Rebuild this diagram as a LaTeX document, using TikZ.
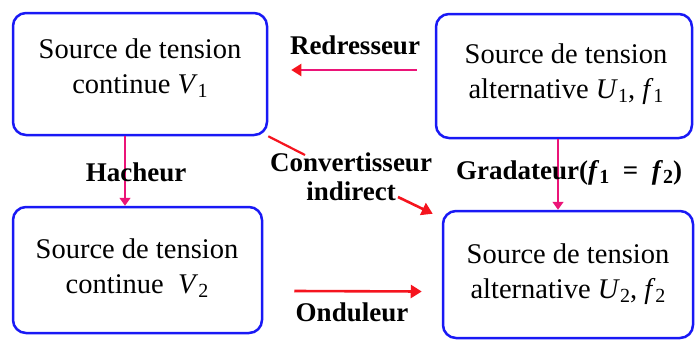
\documentclass[tikz,border=0pt]{standalone}
\usepackage{fontspec}
\setmainfont{Liberation Serif}
\usetikzlibrary{arrows.meta}
\definecolor{boxblue}{RGB}{25,25,245}
\definecolor{pinkline}{RGB}{235,20,120}
\definecolor{redarr}{RGB}{245,20,30}
\newcommand\mysub[1]{\raisebox{-0.35ex}{\fontsize{20}{20}\selectfont #1}}
\begin{document}
\begin{tikzpicture}[x=1pt,y=-1pt,
  srcbox/.style={draw=boxblue, line width=2.5pt, rounded corners=13pt, inner sep=0pt},
  srctext/.style={align=center, font=\fontsize{28.5}{35}\selectfont, inner sep=0pt},
  lab/.style={font=\bfseries\fontsize{27}{29}\selectfont, inner sep=0pt, align=center},
  pinkarr/.style={draw=pinkline, line width=1.6pt, -{Triangle[length=8pt,width=11pt,color=pinkline]}},
  pinkred/.style={draw=pinkline, line width=2pt, -{Triangle[length=10pt,width=12pt,color=redarr]}},
  redarrow/.style={draw=redarr, line width=2.6pt, -{Triangle[length=11pt,width=13pt]}},
  redline/.style={draw=redarr, line width=2.2pt}]
\useasboundingbox (0,0) rectangle (696,340);

\node[srcbox, minimum width=254pt, minimum height=122pt] (b1) at (140,74) {};
\node[srcbox, minimum width=256pt, minimum height=124pt] (b2) at (564,76) {};
\node[srcbox, minimum width=249pt, minimum height=126pt] (b3) at (137.5,270) {};
\node[srcbox, minimum width=250pt, minimum height=127pt] (b4) at (568,274.5) {};

\node[srctext] (t1) at (140,68) {Source de tension\\continue \textit{V}\mysub{1}};
\node[srctext] (t2) at (566,74) {Source de tension\\alternative \textit{U}\mysub{1}, \textit{f}\mysub{1}};
\node[srctext] (t3) at (137,268) {Source de tension\\continue \ \textit{V}\mysub{2}};
\node[srctext] (t4) at (568,274) {Source de tension\\alternative \textit{U}\mysub{2}, \textit{f}\mysub{2}};

% Redresseur
\draw[pinkred] ([shift={(-18,-6)}]b2.west) -- ([shift={(23,-4)}]b1.east);
% Hacheur
\draw[pinkarr] ([xshift=-15pt]b1.south) -- ([xshift=-12.5pt]b3.north);
% Gradateur
\draw[pinkarr] ([xshift=-6pt]b2.south) -- ([xshift=-10pt]b4.north);
% Onduleur
\draw[redarrow] ([shift={(31,21)}]b3.east) -- ([shift={(-20,17)}]b4.west);
% Convertisseur indirect
\coordinate (c1) at (305,155);
\coordinate (c2) at (398,197);
\draw[redline] (b1.south east) -- (c1);
\draw[redarrow] (c2) -- ([shift={(-9,4)}]b4.north west);

\node[lab] (lr) at (355,45) {Redresseur};
\node[lab] (lh) at (136,172) {Hacheur};
\node[lab, anchor=west] (lg) at (456,173) {Gradateur(\textit{f}\mysub{1}\ \ =\ \ \textit{f}\mysub{2})};
\node[lab] (lc) at (351,177) {Convertisseur\\indirect};
\node[lab] (lo) at (352,312) {Onduleur};
\end{tikzpicture}
\end{document}
